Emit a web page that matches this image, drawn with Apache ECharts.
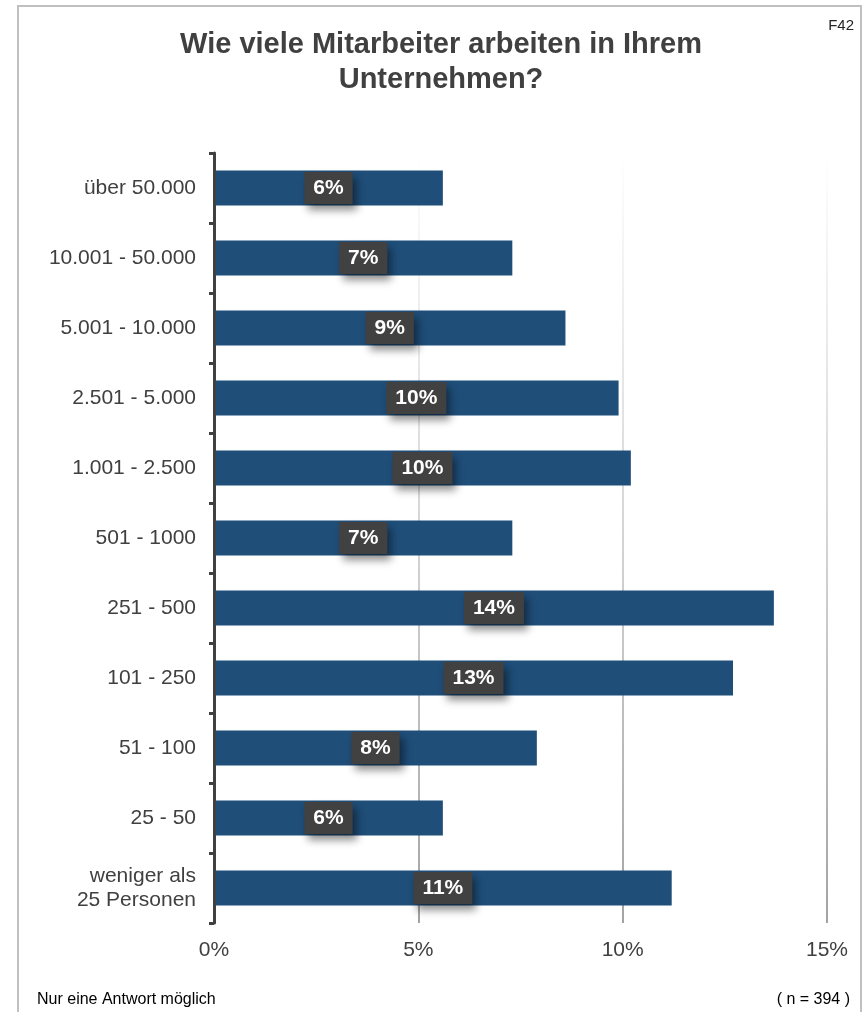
<!DOCTYPE html>
<html>
<head>
<meta charset="utf-8">
<style>
  html, body { margin: 0; padding: 0; background: #ffffff; }
  #chart { width: 867px; height: 1012px; }
</style>
<script src="https://cdn.jsdelivr.net/npm/echarts@6/dist/echarts.min.js"></script>
</head>
<body>
<div id="chart"></div>
<script>
// Company size categories, top to bottom
const categories = [
  'über 50.000',
  '10.001 - 50.000',
  '5.001 - 10.000',
  '2.501 - 5.000',
  '1.001 - 2.500',
  '501 - 1000',
  '251 - 500',
  '101 - 250',
  '51 - 100',
  '25 - 50',
  'weniger als\n25 Personen'
];

// Share of respondents in percent
const shares = [5.6, 7.3, 8.6, 9.9, 10.2, 7.3, 13.7, 12.7, 7.9, 5.6, 11.2];

// Value axis ticks (percent)
const axisMin = 0;
const axisMax = 15;
const axisStep = 5;

const titleText = 'Wie viele Mitarbeiter arbeiten in Ihrem\nUnternehmen?';
const questionCode = 'F42';
const footnoteLeft = 'Nur eine Antwort möglich';
const footnoteRight = '( n = 394 )';

const FONT = '"Liberation Sans", Arial, Helvetica, sans-serif';
const TEXT = '#404040';

const chart = echarts.init(document.getElementById('chart'), null, { renderer: 'canvas' });

chart.setOption({
  backgroundColor: '#ffffff',
  animation: false,
  textStyle: { fontFamily: FONT },
  grid: { left: 214, right: 40, top: 153, bottom: 89, containLabel: false },
  xAxis: {
    type: 'value',
    min: axisMin,
    max: axisMax,
    interval: axisStep,
    axisLine: { show: false },
    axisTick: { show: false },
    axisLabel: {
      formatter: '{value}%',
      color: TEXT,
      fontSize: 21,
      fontFamily: FONT,
      margin: 17
    },
    splitLine: {
      show: true,
      lineStyle: {
        width: 2,
        color: new echarts.graphic.LinearGradient(0, 0, 0, 1, [
          { offset: 0, color: '#ffffff' },
          { offset: 0.5, color: '#d4d4d4' },
          { offset: 1, color: '#a3a3a3' }
        ])
      }
    }
  },
  yAxis: {
    type: 'category',
    data: categories,
    inverse: true,
    z: 3,
    axisLine: { show: true, lineStyle: { color: TEXT, width: 3 } },
    axisTick: { show: true, length: 5, lineStyle: { color: TEXT, width: 3 } },
    axisLabel: {
      color: TEXT,
      fontSize: 21,
      fontFamily: FONT,
      margin: 18,
      lineHeight: 24,
      align: 'right'
    },
    splitLine: { show: false }
  },
  series: [{
    type: 'bar',
    data: shares,
    barWidth: '50%',
    itemStyle: { color: '#1F4E79' },
    label: {
      show: true,
      position: 'inside',
      formatter: (p) => Math.round(p.value) + '%',
      color: '#ffffff',
      fontWeight: 'bold',
      fontSize: 21,
      fontFamily: FONT,
      backgroundColor: '#414141',
      padding: [6, 9, 5, 9],
      shadowColor: 'rgba(0,0,0,0.45)',
      shadowBlur: 8,
      shadowOffsetX: 4,
      shadowOffsetY: 6
    }
  }],
  graphic: [
    {
      type: 'rect',
      silent: true,
      z: -10,
      shape: { x: 18, y: 6, width: 843, height: 1020 },
      style: { fill: 'none', stroke: '#c0c0c0', lineWidth: 2 }
    },
    {
      type: 'text',
      silent: true,
      x: 441,
      y: 62,
      style: {
        text: titleText,
        fill: TEXT,
        fontSize: 29,
        fontWeight: 'bold',
        fontFamily: FONT,
        lineHeight: 35,
        align: 'center',
        verticalAlign: 'middle'
      }
    },
    {
      type: 'text',
      silent: true,
      x: 854,
      y: 26,
      style: {
        text: questionCode,
        fill: '#262626',
        fontSize: 15,
        fontFamily: FONT,
        align: 'right',
        verticalAlign: 'middle'
      }
    },
    {
      type: 'text',
      silent: true,
      x: 37,
      y: 1000,
      style: {
        text: footnoteLeft,
        fill: '#000000',
        fontSize: 16,
        fontFamily: FONT,
        align: 'left',
        verticalAlign: 'middle'
      }
    },
    {
      type: 'text',
      silent: true,
      x: 850,
      y: 1000,
      style: {
        text: footnoteRight,
        fill: '#000000',
        fontSize: 16,
        fontFamily: FONT,
        align: 'right',
        verticalAlign: 'middle'
      }
    }
  ]
});
</script>
</body>
</html>
